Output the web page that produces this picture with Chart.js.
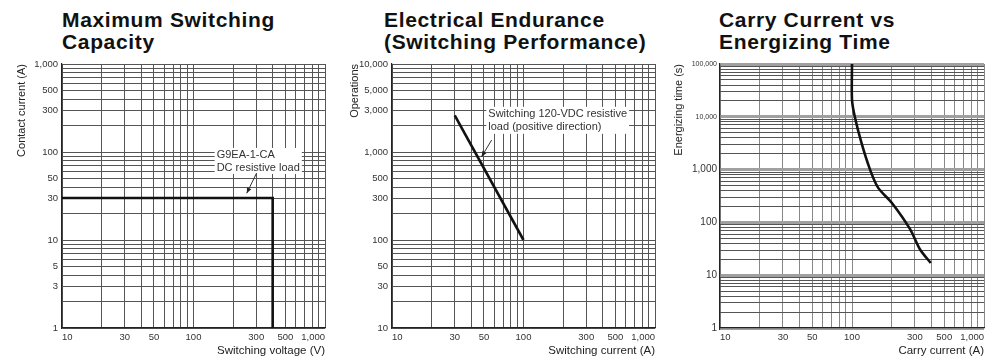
<!DOCTYPE html>
<html>
<head>
<meta charset="utf-8">
<script src="https://cdn.jsdelivr.net/npm/chart.js@4.4.1/dist/chart.umd.min.js"></script>
<style>
  body { margin: 0; background: #fff; width: 987px; height: 358px; overflow: hidden; position: relative; font-family: "Liberation Sans", Arial, sans-serif; }
  .t { position: absolute; top: 9px; font-weight: bold; font-size: 21px; line-height: 22px; letter-spacing: .65px; color: #111; white-space: nowrap; }
  .c { position: absolute; top: 56px; height: 302px; }
</style>
</head>
<body>
<div class="t" style="left:62px">Maximum Switching<br>Capacity</div>
<div class="t" style="left:384px">Electrical Endurance<br>(Switching Performance)</div>
<div class="t" style="left:719px">Carry Current vs<br>Energizing Time</div>
<div class="c" style="left:0;width:330px"><canvas id="cap"></canvas></div>
<div class="c" style="left:330px;width:330px"><canvas id="end"></canvas></div>
<div class="c" style="left:660px;width:327px"><canvas id="carry"></canvas></div>
<script>
// values
const capVoltage = [10, 400, 400];
const capCurrent = [30, 30, 1];
const endCurrent = [30, 100];
const endOperations = [2600, 100];
const carryCurrent = [100, 100, 105, 118, 137, 158, 200, 276, 327, 395];
const carryTime = [100000, 21000, 10000, 3200, 1000, 450, 236, 74, 31, 17];

const xTickLabels = [10, 30, 50, 100, 300, 500, 1000];
const capYTickLabels = [1, 3, 5, 10, 30, 50, 100, 300, 500, 1000];
const endYTickLabels = [10, 30, 50, 100, 300, 500, 1000, 3000, 5000, 10000];
const carryYTickLabels = [1, 10, 100, 1000, 10000, 100000];

const FONT = '"Liberation Sans", Arial, sans-serif';
const fmt = v => v.toLocaleString('en-US');

// 1..9 x 10^n grid positions for a log axis
function logGrid(min, max) {
  const out = [];
  for (let d = min; d < max; d *= 10) {
    for (let k = 1; k < 10; k++) out.push(k * d);
  }
  out.push(max);
  return out.map(v => ({ value: v }));
}

const notesPlugin = {
  id: 'notes',
  afterDatasetsDraw(chart, args, opts) {
    if (!opts || !opts.lines) return;
    const { ctx, scales: { x, y } } = chart;
    ctx.save();
    ctx.font = '11px ' + FONT;
    const px = x.getPixelForValue(opts.at[0]);
    const py = y.getPixelForValue(opts.at[1]);
    const lh = opts.lh;
    const w = Math.max(...opts.lines.map(t => ctx.measureText(t).width));
    ctx.fillStyle = '#fff';
    ctx.fillRect(px - 2, py - lh / 2 - 1, w + 4, lh * opts.lines.length + 1);
    ctx.fillStyle = '#333';
    ctx.textBaseline = 'middle';
    opts.lines.forEach((t, i) => ctx.fillText(t, px, py + i * lh));
    const x1 = x.getPixelForValue(opts.arrow[0]), y1 = y.getPixelForValue(opts.arrow[1]);
    const x2 = x.getPixelForValue(opts.arrow[2]), y2 = y.getPixelForValue(opts.arrow[3]);
    ctx.strokeStyle = '#333';
    ctx.lineWidth = 1;
    ctx.beginPath();
    ctx.moveTo(x1, y1);
    ctx.lineTo(x2, y2);
    ctx.stroke();
    const a = Math.atan2(y2 - y1, x2 - x1);
    ctx.beginPath();
    ctx.moveTo(x2, y2);
    ctx.lineTo(x2 - 6 * Math.cos(a - 0.4), y2 - 6 * Math.sin(a - 0.4));
    ctx.lineTo(x2 - 6 * Math.cos(a + 0.4), y2 - 6 * Math.sin(a + 0.4));
    ctx.closePath();
    ctx.fillStyle = '#222';
    ctx.fill();
    ctx.restore();
  }
};

function makeChart(id, o) {
  return new Chart(document.getElementById(id), {
    type: 'line',
    data: {
      datasets: [{
        data: o.xs.map((v, i) => ({ x: v, y: o.ys[i] })),
        borderColor: '#111',
        borderWidth: 2.6,
        pointRadius: 0,
        tension: o.tension || 0,
        fill: false
      }]
    },
    options: {
      responsive: true,
      maintainAspectRatio: false,
      animation: false,
      layout: { padding: { left: 0, right: o.padRight, top: 8, bottom: 0 } },
      plugins: { legend: { display: false }, tooltip: { enabled: false }, notes: o.notes || {} },
      scales: {
        x: {
          type: 'logarithmic', min: 10, max: 1000,
          afterBuildTicks: s => { s.ticks = logGrid(10, 1000); },
          afterFit: s => { s.height = 30; s.paddingLeft = 0; s.paddingRight = 0; },
          ticks: {
            autoSkip: false, maxRotation: 0, align: 'inner', padding: 4, color: '#333',
            font: { family: FONT, size: 9.5 },
            callback: v => xTickLabels.includes(v) ? fmt(v) : ''
          },
          grid: { color: o.vGridColor, lineWidth: 1, drawTicks: false },
          border: { color: '#222', width: 1.2 },
          title: { display: true, text: o.xTitle, align: 'end', color: '#222', font: { family: FONT, size: 11.5 }, padding: 0 }
        },
        y: {
          type: 'logarithmic', min: o.yMin, max: o.yMax,
          afterBuildTicks: s => { s.ticks = logGrid(o.yMin, o.yMax); },
          afterFit: s => { s.width = o.yWidth; s.paddingTop = 0; s.paddingBottom = 0; },
          ticks: {
            autoSkip: false, padding: o.yPad, color: '#333',
            font: o.yFont || { family: FONT, size: 9.5 },
            callback: v => o.yLabels.includes(v) ? fmt(v) : ''
          },
          grid: { color: o.hGridColor, lineWidth: o.hGridWidth || 1, drawTicks: false },
          border: { color: '#222', width: 1.2 },
          title: { display: true, text: o.yTitle, align: 'end', color: '#222', font: { family: FONT, size: 11 }, padding: { top: o.yTitlePad, bottom: 0 } }
        }
      }
    },
    plugins: [notesPlugin]
  });
}

makeChart('cap', {
  xs: capVoltage, ys: capCurrent,
  yMin: 1, yMax: 1000, yLabels: capYTickLabels,
  xTitle: 'Switching voltage (V)', yTitle: 'Contact current (A)',
  yWidth: 62, yPad: 4, yTitlePad: 15, padRight: 5,
  vGridColor: '#555', hGridColor: '#555',
  notes: { lines: ['G9EA-1-CA', 'DC resistive load'], at: [150, 92], lh: 12.5, arrow: [302, 57.7, 254, 34] }
});

makeChart('end', {
  xs: endCurrent, ys: endOperations,
  yMin: 10, yMax: 10000, yLabels: endYTickLabels,
  xTitle: 'Switching current (A)', yTitle: 'Operations',
  yWidth: 62, yPad: 4, yTitlePad: 18, padRight: 5,
  vGridColor: '#555', hGridColor: '#555',
  notes: { lines: ['Switching 120-VDC resistive', 'load (positive direction)'], at: [54, 2680], lh: 13, arrow: [57.3, 1370, 48, 885] }
});

makeChart('carry', {
  xs: carryCurrent, ys: carryTime, tension: 0.3,
  yMin: 1, yMax: 100000, yLabels: carryYTickLabels,
  xTitle: 'Carry current (A)', yTitle: 'Energizing time (s)',
  yWidth: 60, yPad: 3, yTitlePad: 12, padRight: 3,
  yFont: ctx => ({ family: FONT, size: ctx.tick && ctx.tick.value >= 10000 ? 7 : 10 }),
  vGridColor: '#888',
  hGridColor: ctx => {
    const v = ctx.tick ? ctx.tick.value : 0;
    return Math.abs(Math.log10(v) - Math.round(Math.log10(v))) < 1e-9 ? '#a0a0a0' : '#555';
  },
  hGridWidth: ctx => {
    const v = ctx.tick ? ctx.tick.value : 0;
    return Math.abs(Math.log10(v) - Math.round(Math.log10(v))) < 1e-9 ? 3 : 1;
  }
});
</script>
</body>
</html>
